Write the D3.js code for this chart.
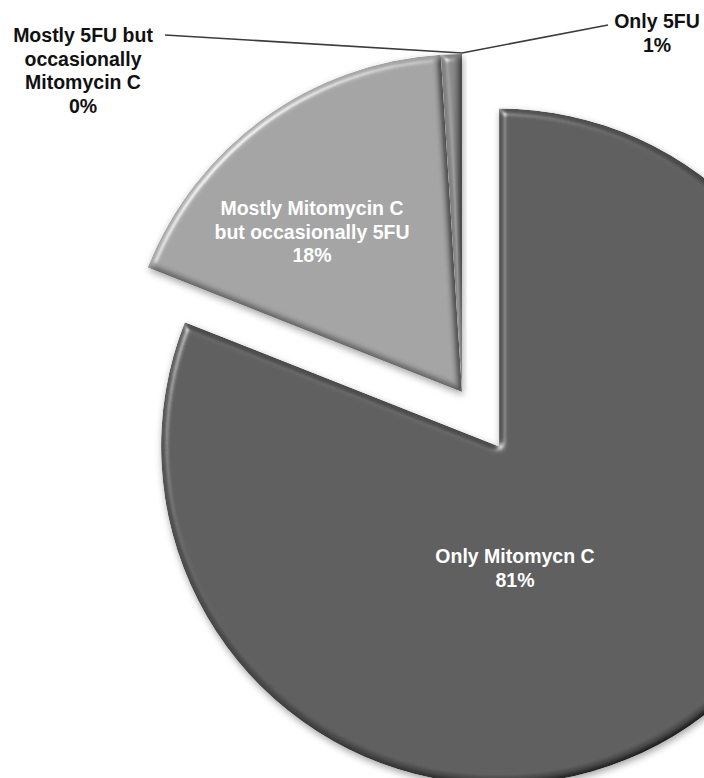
<!DOCTYPE html>
<html>
<head>
<meta charset="utf-8">
<script src="https://cdn.jsdelivr.net/npm/d3@7"></script>
<style>
  body { margin: 0; background: #fff; }
  svg { display: block; }
</style>
</head>
<body>
<script>
// Treatment used for the procedure, share of respondents (%)
const categories = [
  "Only Mitomycn C",
  "Mostly Mitomycin C but occasionally 5FU",
  "Only 5FU",
  "Mostly 5FU but occasionally Mitomycin C"
];
const values = [81, 18, 1, 0];
// Category names as they are wrapped on the chart
const nameLines = [
  ["Only Mitomycn C"],
  ["Mostly Mitomycin C", "but occasionally 5FU"],
  ["Only 5FU"],
  ["Mostly 5FU but", "occasionally", "Mitomycin C"]
];

// ---- layout & style ----
const W = 704, H = 778;
const cx = 462, cy = 392, R = 338;
const explode = [66, 0, 0, 0];
const fills = ["#545454", "#a0a0a0", "#848484", "#7a7a7a"];
const fontSize = 19.5, lineH = 23.5;
// label block: x centre, first baseline, inside/outside, leader start
const labelLayout = [
  { x: 515, y: 563, inside: true },
  { x: 312, y: 215, inside: true },
  { x: 657, y: 28, inside: false, lead: [608, 25] },
  { x: 83, y: 42, inside: false, lead: [165, 35] }
];

const svg = d3.select("body").append("svg")
  .attr("width", W).attr("height", H)
  .style("font-family", "'Liberation Sans', Arial, sans-serif");

// soft bevel + drop shadow
const defs = svg.append("defs");
const f = defs.append("filter").attr("id", "bevel")
  .attr("x", "-20%").attr("y", "-20%").attr("width", "140%").attr("height", "140%");
f.append("feGaussianBlur").attr("in", "SourceAlpha").attr("stdDeviation", 3.5).attr("result", "blur");
const spec = f.append("feSpecularLighting").attr("in", "blur")
  .attr("surfaceScale", 6).attr("specularConstant", 1).attr("specularExponent", 22)
  .attr("lighting-color", "#ffffff").attr("result", "spec");
spec.append("feDistantLight").attr("azimuth", 225).attr("elevation", 32);
f.append("feComposite").attr("in", "spec").attr("in2", "SourceAlpha").attr("operator", "in").attr("result", "specIn");
const diff = f.append("feDiffuseLighting").attr("in", "blur")
  .attr("surfaceScale", 6).attr("diffuseConstant", 1.16)
  .attr("lighting-color", "#ffffff").attr("result", "diff");
diff.append("feDistantLight").attr("azimuth", 225).attr("elevation", 60);
f.append("feComposite").attr("in", "SourceGraphic").attr("in2", "diff")
  .attr("operator", "arithmetic").attr("k1", 1).attr("k2", 0).attr("k3", 0).attr("k4", 0).attr("result", "shaded");
f.append("feComposite").attr("in", "shaded").attr("in2", "specIn")
  .attr("operator", "arithmetic").attr("k1", 0).attr("k2", 1).attr("k3", 0.5).attr("k4", 0).attr("result", "lit");
f.append("feComposite").attr("in", "lit").attr("in2", "SourceAlpha").attr("operator", "in").attr("result", "litIn");
f.append("feGaussianBlur").attr("in", "SourceAlpha").attr("stdDeviation", 3.5).attr("result", "sblur");
f.append("feOffset").attr("in", "sblur").attr("dx", 1).attr("dy", 3).attr("result", "off");
f.append("feFlood").attr("flood-color", "#000").attr("flood-opacity", 0.35);
f.append("feComposite").attr("in2", "off").attr("operator", "in").attr("result", "shadow");
const m = f.append("feMerge");
m.append("feMergeNode").attr("in", "shadow");
m.append("feMergeNode").attr("in", "litIn");

const pie = d3.pie().sort(null).value(d => d).startAngle(0).endAngle(2 * Math.PI);
const arcs = pie(values);
const arc = d3.arc().innerRadius(0).outerRadius(R);

function offset(d, i) {
  const a = (d.startAngle + d.endAngle) / 2;
  return [Math.sin(a) * explode[i], -Math.cos(a) * explode[i]];
}

const g = svg.append("g").attr("transform", `translate(${cx},${cy})`);

// leader lines for the outside labels
arcs.forEach((d, i) => {
  const L = labelLayout[i];
  if (L.inside) return;
  const a = d.endAngle;
  const ex = cx + Math.sin(a) * R, ey = cy - Math.cos(a) * R;
  svg.append("line")
    .attr("x1", L.lead[0]).attr("y1", L.lead[1])
    .attr("x2", ex).attr("y2", ey - 1)
    .attr("stroke", "#3c3c3c").attr("stroke-width", 1.6);
});

g.selectAll("path.slice").data(arcs).join("path")
  .attr("class", "slice")
  .attr("d", arc)
  .attr("transform", (d, i) => `translate(${offset(d, i)})`)
  .attr("fill", (d, i) => fills[i])
  .attr("filter", "url(#bevel)");

// labels
arcs.forEach((d, i) => {
  const L = labelLayout[i];
  const lines = nameLines[i].concat([`${d.data}%`]);
  const t = svg.append("text")
    .attr("text-anchor", "middle")
    .attr("font-size", fontSize)
    .attr("font-weight", "bold")
    .attr("fill", L.inside ? "#ffffff" : "#111111");
  lines.forEach((s, k) => {
    t.append("tspan").attr("x", L.x).attr("y", L.y + k * lineH).text(s);
  });
});
</script>
</body>
</html>
